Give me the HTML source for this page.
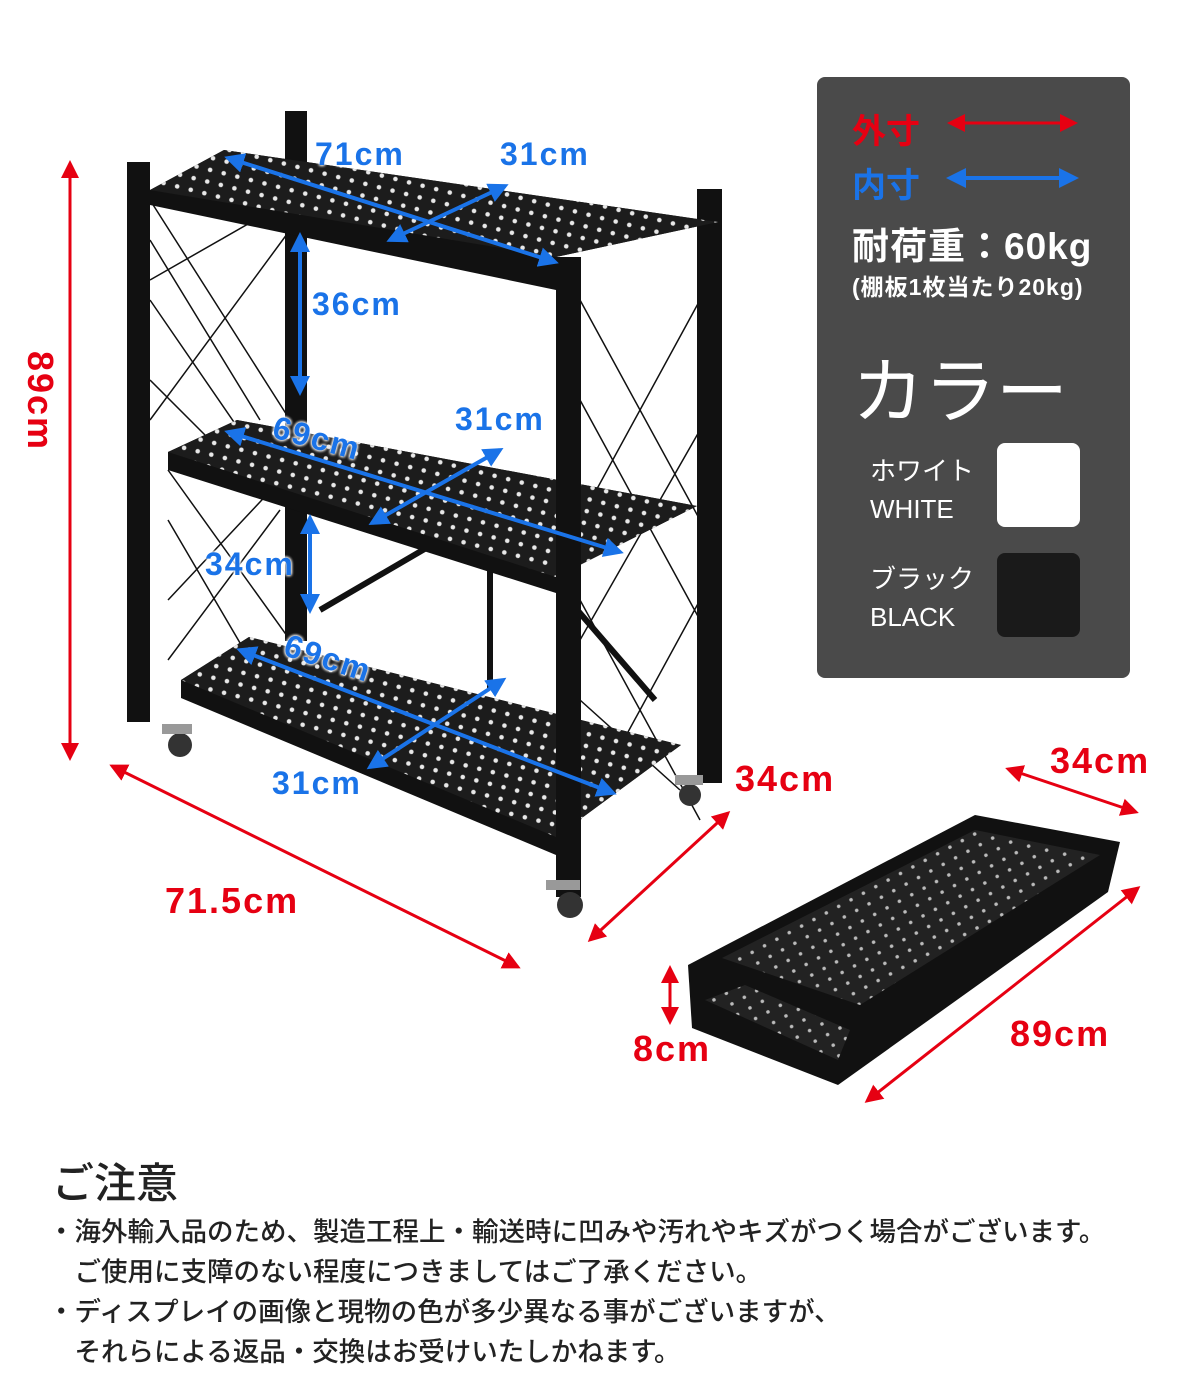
<!DOCTYPE html>
<html><head><meta charset="utf-8"><style>
html,body{margin:0;padding:0;background:#fff;}
body{width:1200px;height:1400px;position:relative;overflow:hidden;font-family:"Liberation Sans","Noto Sans CJK JP",sans-serif;}
.t{position:absolute;white-space:nowrap;}
.r{font-size:36px;color:#e60012;font-weight:bold;letter-spacing:2px;}
</style></head><body>
<svg width="1200" height="1400" style="position:absolute;left:0;top:0">
<defs>
<pattern id="dots" width="14" height="12" patternUnits="userSpaceOnUse" patternTransform="rotate(14)">
<rect width="14" height="12" fill="#1c1c1c"/><circle cx="7" cy="6" r="2.3" fill="#e8e8e8"/></pattern>
<pattern id="dots2" width="14" height="12" patternUnits="userSpaceOnUse" patternTransform="rotate(-28)">
<rect width="14" height="12" fill="#222"/><circle cx="7" cy="6" r="1.8" fill="#bbb"/></pattern>
<marker id="ar" markerWidth="6" markerHeight="6" refX="5" refY="3" orient="auto-start-reverse" markerUnits="strokeWidth"><path d="M0,0 L6,3 L0,6z" fill="#e60012"/></marker>
<marker id="ab" markerWidth="5" markerHeight="5" refX="4" refY="2.5" orient="auto-start-reverse" markerUnits="strokeWidth"><path d="M0,0 L5,2.5 L0,5z" fill="#1a73e8"/></marker>
</defs>
<g stroke="#111" stroke-width="1.5" fill="none">
<path d="M150,200 L290,420 M150,280 L290,200 M150,240 L260,420 M150,420 L290,230 M150,300 L260,460 M150,380 L230,460"/>
<path d="M168,470 L290,640 M168,600 L290,470 M168,520 L250,660 M168,660 L280,510"/>
<path d="M580,300 L700,520 M580,520 L700,300 M580,400 L700,620 M580,640 L700,430 M580,600 L700,820 M580,820 L700,600 M580,700 L680,790"/>
</g>
<path d="M320,610 L500,505 M560,590 L655,700 M490,570 L490,690" stroke="#111" stroke-width="6"/>
<rect x="285" y="111" width="22" height="530" fill="#111"/>
<rect x="697" y="189" width="25" height="594" fill="#111"/>
<polygon points="150,190 224,150 718,222 556,257 556,290 150,205" fill="#111"/>
<polygon points="150,190 224,150 718,222 556,257" fill="url(#dots)"/>
<polygon points="168,452 237,420 697,506 556,577 556,593 168,470" fill="#111"/>
<polygon points="168,452 237,420 697,506 556,577" fill="url(#dots)"/>
<polygon points="181,680 249,637 681,745 556,837 556,855 181,698" fill="#111"/>
<polygon points="181,680 249,637 681,745 556,837" fill="url(#dots)"/>
<rect x="127" y="162" width="23" height="560" fill="#111"/>
<rect x="556" y="257" width="25" height="640" fill="#111"/>
<g fill="#333"><circle cx="180" cy="745" r="12"/><circle cx="570" cy="905" r="13"/><circle cx="690" cy="795" r="11"/></g>
<g fill="#999"><rect x="162" y="724" width="30" height="10"/><rect x="546" y="880" width="34" height="10"/><rect x="675" y="775" width="28" height="10"/></g>
<g stroke="#1a73e8" stroke-width="4" fill="none" marker-start="url(#ab)" marker-end="url(#ab)">
<line x1="228" y1="158" x2="555" y2="262"/>
<line x1="505" y1="186" x2="390" y2="240"/>
<line x1="300" y1="236" x2="300" y2="392"/>
<line x1="228" y1="432" x2="620" y2="552"/>
<line x1="500" y1="450" x2="372" y2="523"/>
<line x1="310" y1="518" x2="310" y2="610"/>
<line x1="240" y1="650" x2="613" y2="793"/>
<line x1="503" y1="680" x2="370" y2="767"/>
</g>
<g stroke="#e60012" stroke-width="3" fill="none" marker-start="url(#ar)" marker-end="url(#ar)">
<line x1="70" y1="163" x2="70" y2="758"/>
<line x1="112" y1="766" x2="518" y2="967"/>
<line x1="728" y1="813" x2="590" y2="940"/>
<line x1="1008" y1="769" x2="1136" y2="812"/>
<line x1="1138" y1="888" x2="867" y2="1101"/>
<line x1="670" y1="968" x2="670" y2="1022"/>
</g>
<polygon points="688,965 975,815 1120,842 1108,892 838,1085 692,1028" fill="#111"/>
<polygon points="722,958 975,830 1100,855 860,1005" fill="url(#dots2)"/>
<polygon points="705,1000 745,985 850,1030 838,1060" fill="url(#dots2)"/>
<rect x="817" y="77" width="313" height="601" rx="8" fill="#4a4a4a"/>
<g stroke-width="3" fill="none">
<line x1="950" y1="123" x2="1075" y2="123" stroke="#e60012" marker-start="url(#ar)" marker-end="url(#ar)"/>
<line x1="950" y1="178" x2="1075" y2="178" stroke="#1a73e8" stroke-width="4" marker-start="url(#ab)" marker-end="url(#ab)"/>
</g>
<rect x="997" y="443" width="83" height="84" rx="8" fill="#fff"/>
<rect x="997" y="553" width="83" height="84" rx="8" fill="#1a1a1a"/>
</svg>
<div class="t" style="left:852px;top:104px;font-size:34px;font-weight:bold;color:#e60012">外寸</div>
<div class="t" style="left:852px;top:158px;font-size:34px;font-weight:bold;color:#1a73e8">内寸</div>
<div class="t" style="left:852px;top:216px;font-size:37px;font-weight:bold;color:#fff;letter-spacing:1px">耐荷重：60kg</div>
<div class="t" style="left:852px;top:268px;font-size:23px;font-weight:bold;color:#fff;letter-spacing:1px">(棚板1枚当たり20kg)</div>
<div class="t" style="left:852px;top:333px;font-size:72px;color:#fff">カラー</div>
<div class="t" style="left:870px;top:452px;font-size:26px;color:#fff;line-height:38px">ホワイト<br>WHITE</div>
<div class="t" style="left:870px;top:560px;font-size:26px;color:#fff;line-height:38px">ブラック<br>BLACK</div>
<div class="t r" style="left:-10px;top:380px;transform:rotate(90deg)">89cm</div>
<div class="t r" style="left:165px;top:880px">71.5cm</div>
<div class="t r" style="left:735px;top:758px">34cm</div>
<div class="t r" style="left:1050px;top:740px">34cm</div>
<div class="t r" style="left:1010px;top:1013px">89cm</div>
<div class="t r" style="left:633px;top:1028px">8cm</div>
<div style="font-size:32px;font-weight:bold;letter-spacing:2px;color:#1a73e8;text-shadow:0 0 3px #fff,0 0 3px #fff,0 0 3px #fff">
<div class="t" style="left:315px;top:136px">71cm</div>
<div class="t" style="left:500px;top:136px">31cm</div>
<div class="t" style="left:312px;top:286px">36cm</div>
<div class="t" style="left:455px;top:401px">31cm</div>
<div class="t" style="left:272px;top:420px;transform:rotate(15deg)">69cm</div>
<div class="t" style="left:205px;top:546px">34cm</div>
<div class="t" style="left:283px;top:640px;transform:rotate(18deg)">69cm</div>
<div class="t" style="left:272px;top:765px">31cm</div>
</div>
<div class="t" style="left:52px;top:1150px;font-size:42px;color:#222;font-weight:500">ご注意</div>
<div class="t" style="left:48px;top:1212px;font-size:26.5px;color:#222;line-height:40px;font-weight:500">・海外輸入品のため、製造工程上・輸送時に凹みや汚れやキズがつく場合がございます。<br>　ご使用に支障のない程度につきましてはご了承ください。</div>
<div class="t" style="left:48px;top:1292px;font-size:26.5px;color:#222;line-height:40px;font-weight:500">・ディスプレイの画像と現物の色が多少異なる事がございますが、<br>　それらによる返品・交換はお受けいたしかねます。</div>
</body></html>
